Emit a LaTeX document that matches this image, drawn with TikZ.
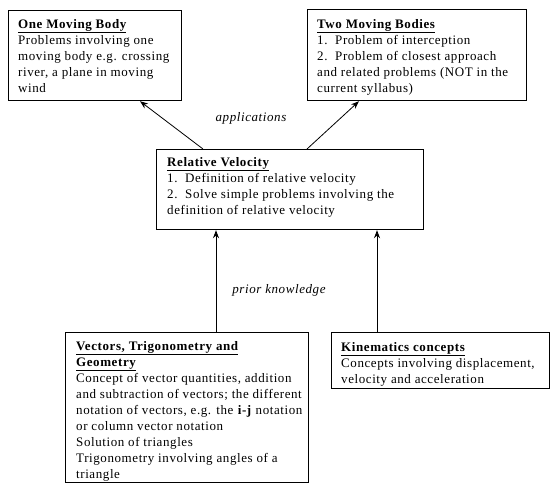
\documentclass[tikz,border=0pt]{standalone}
\usepackage{fontspec}
\setmainfont{Liberation Serif}[LetterSpace=4.5]
\usetikzlibrary{arrows.meta,calc}
\begin{document}
\begin{tikzpicture}[x=1pt,y=-1pt,
  box/.style={draw, line width=1.2pt, inner sep=0pt, anchor=north west},
  txt/.style={anchor=north west, inner sep=0pt, align=left, font=\fontsize{13}{16}\selectfont},
  lab/.style={inner sep=0pt, font=\fontsize{13}{16}\selectfont\itshape},
  arr/.style={-{Stealth[length=8pt,width=6pt]}, line width=0.8pt}]
\useasboundingbox (0,0) rectangle (554,496);
% boxes
\node[box, minimum width=173pt, minimum height=90pt] (b1) at (8,10) {};
\node[box, minimum width=219pt, minimum height=91pt] (b2) at (307,9) {};
\node[box, minimum width=267pt, minimum height=80pt] (rv) at (156,149) {};
\node[box, minimum width=243pt, minimum height=150pt] (vec) at (65,332) {};
\node[box, minimum width=218pt, minimum height=56pt] (kin) at (331,332) {};
% texts
\node[txt] (t1) at ($(b1.north west)+(10,9)$) {\textbf{\underline{One Moving Body}}\\
Problems involving one\\
moving body e.g. crossing\\
river, a plane in moving\\
wind};
\node[txt] (t2) at ($(b2.north west)+(10,10)$) {\textbf{\underline{Two Moving Bodies}}\\
1.\ \ Problem of interception\\
2.\ \ Problem of closest approach\\
and related problems (NOT in the\\
current syllabus)};
\node[txt] (t3) at ($(rv.north west)+(11,8)$) {\textbf{\underline{Relative Velocity}}\\
1.\ \ Definition of relative velocity\\
2.\ \ Solve simple problems involving the\\
definition of relative velocity};
\node[txt] (t4) at ($(vec.north west)+(11,9)$) {\textbf{\underline{Vectors, Trigonometry and}}\\
\textbf{\underline{Geometry}}\\
Concept of vector quantities, addition\\
and subtraction of vectors; the different\\
notation of vectors, e.g. the \textbf{i-j} notation\\
or column vector notation\\
Solution of triangles\\
Trigonometry involving angles of a\\
triangle};
\node[txt] (t5) at ($(kin.north west)+(10,10)$) {\textbf{\underline{Kinematics concepts}}\\
Concepts involving displacement,\\
velocity and acceleration};
% labels
\node[lab] (l1) at (251,118) {applications};
\node[lab] (l2) at (279,290) {prior knowledge};
% arrows
\coordinate (r1) at ($(rv.north west)+(47,0)$);
\coordinate (r2) at ($(rv.north west)+(151,0)$);
\coordinate (e1) at ($(b1.south west)+(132,0)$);
\coordinate (e2) at ($(b2.south west)+(52,0)$);
\draw[arr] (r1) -- (e1);
\draw[arr] (r2) -- (e2);
\coordinate (v1) at ($(vec.north west)+(151,0)$);
\coordinate (k1) at ($(kin.north west)+(46,0)$);
\draw[arr] (v1) -- (v1 |- rv.south);
\draw[arr] (k1) -- (k1 |- rv.south);
\end{tikzpicture}
\end{document}
